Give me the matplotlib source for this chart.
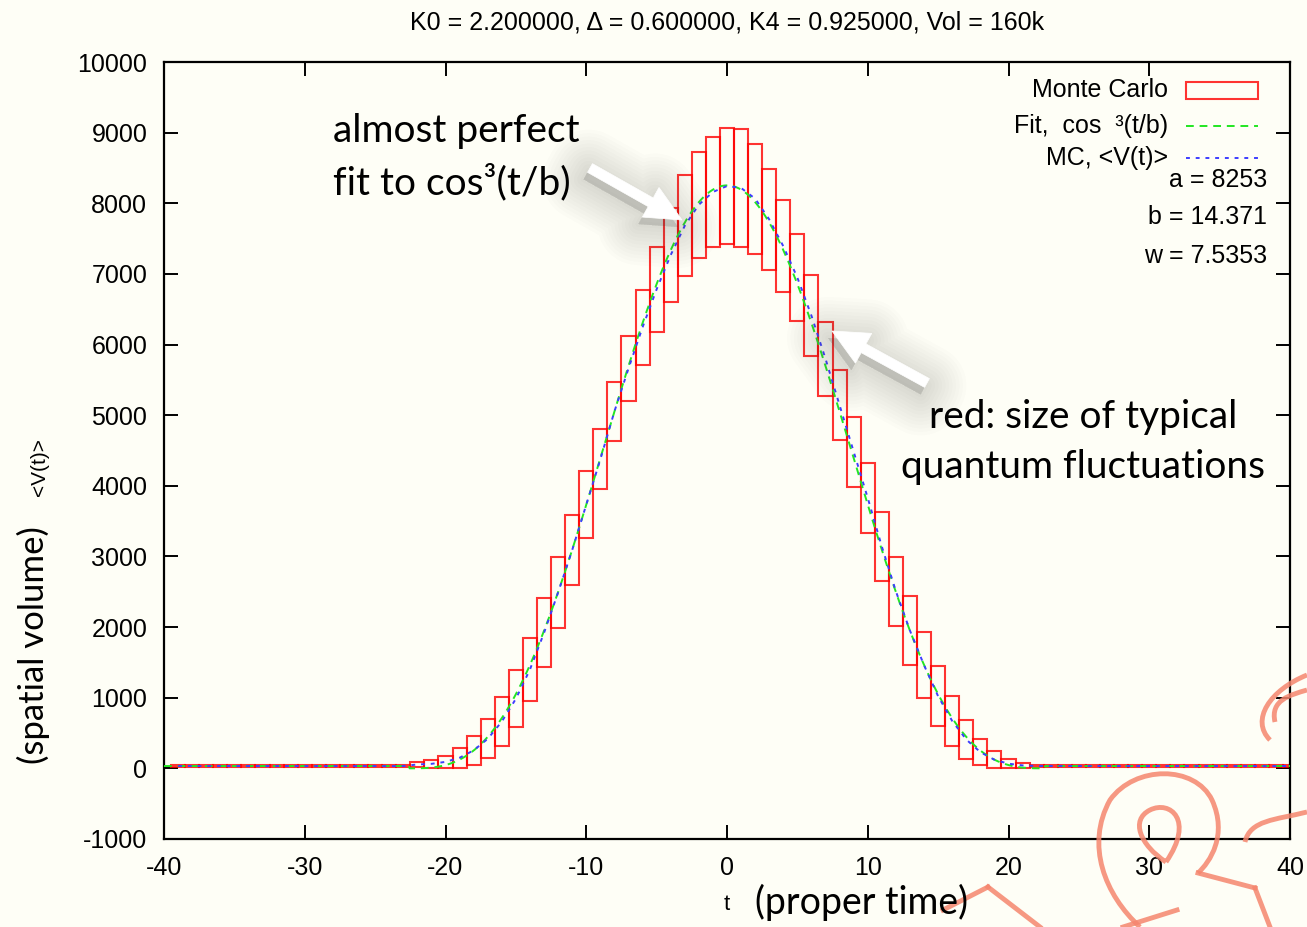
import numpy as np
import matplotlib
matplotlib.use("Agg")
import matplotlib.pyplot as plt
from matplotlib.patches import Rectangle, FancyArrow, PathPatch
from matplotlib.path import Path
from matplotlib.lines import Line2D

W, H = 1307, 927
BG = "#fefef6"

# ---------------- data ----------------
t_vals = list(range(-39, 41))
mc_mean = [33, 33, 33, 33, 33, 33, 33, 33, 33, 33, 33, 33, 33, 33, 33, 33, 33,
           55, 64, 92, 150, 255, 418, 662, 985, 1400, 1918, 2490, 3090, 3732,
           4374, 5052, 5660, 6244, 6782, 7267, 7682, 7980, 8160,
           8244,
           8217, 8065, 7772, 7392, 6947, 6408, 5798, 5140, 4483, 3828, 3140,
           2507, 1950, 1460, 1021, 671, 408, 230, 122, 66, 42, 33,
           33, 33, 33, 33, 33, 33, 33, 33, 33, 33, 33, 33, 33, 33, 33, 33, 33, 33]
mc_sd = [14, 14, 14, 14, 14, 14, 14, 14, 14, 14, 14, 14, 14, 14, 14, 14, 14,
         35, 59, 88, 145, 205, 278, 342, 405, 450, 488, 505, 500, 474,
         424, 415, 458, 527, 598, 664, 715, 750, 775,
         816,
         831, 780, 715, 652, 618, 577, 523, 493, 493, 490, 490,
         490, 490, 470, 424, 356, 275, 186, 118, 66, 32, 19,
         14, 14, 14, 14, 14, 14, 14, 14, 14, 14, 14, 14, 14, 14, 14, 14, 14, 14]
fit_a = 8253
fit_b = 14.371
fit_w = 7.5353
stalk = 33

x_ticks = [-40, -30, -20, -10, 0, 10, 20, 30, 40]
y_ticks = [-1000, 0, 1000, 2000, 3000, 4000, 5000, 6000, 7000, 8000, 9000, 10000]
title = "K0 = 2.200000, \u0394 = 0.600000, K4 = 0.925000, Vol = 160k"
legend_labels = ["Monte Carlo", "Fit,  cos  \u00b3(t/b)", "MC, <V(t)>"]
param_labels = ["a = 8253", "b = 14.371", "w = 7.5353"]

# ---------------- figure ----------------
fig = plt.figure(figsize=(W / 100, H / 100), dpi=100, facecolor=BG)
L, R, T, B = 164, 1290, 62, 839
ax = fig.add_axes([L / W, 1 - B / H, (R - L) / W, (B - T) / H], facecolor=BG)

TF = "Liberation Sans"
GF = "Lato"
FS = 18

# Monte Carlo boxes (mean +- sd)
for tv, m, s in zip(t_vals, mc_mean, mc_sd):
    ax.add_patch(Rectangle((tv - 0.5, m - s), 1.0, 2 * s, fill=False,
                           edgecolor=(1, 0, 0, 0.8), linewidth=1.5, zorder=2))

# fit curve (parameters a, b shown in the chart)
tt = np.linspace(-40, 40, 1601)
arg = tt / fit_b
fit = np.where(np.abs(arg) < np.pi / 2, fit_a * np.cos(arg) ** 3, stalk)
ax.plot(tt, fit, color="#22e622", lw=1.4, dashes=(4, 3), zorder=3)
# MC mean
ax.plot(t_vals, mc_mean, color="#3d3dff", lw=1.4, dashes=(2, 3), zorder=4)

ax.set_xlim(-40, 40)
ax.set_ylim(-1000, 10000)
ax.set_xticks(x_ticks)
ax.set_yticks(y_ticks)
ax.set_xticklabels([str(v) for v in x_ticks], fontfamily=TF, fontsize=FS)
ax.set_yticklabels([str(v) for v in y_ticks], fontfamily=TF, fontsize=FS)
ax.tick_params(direction="in", length=10, width=1.4, top=True, right=True,
               colors="black")
ax.tick_params(axis="y", pad=12)
ax.tick_params(axis="x", pad=12)
for sp in ax.spines.values():
    sp.set_linewidth(1.6)

# ---------------- overlay in pixel coordinates ----------------
ov = fig.add_axes([0, 0, 1, 1], zorder=5)
ov.set_xlim(0, W)
ov.set_ylim(H, 0)
ov.axis("off")
ov.patch.set_alpha(0)

ov.text(727, 22, title, ha="center", va="center", fontfamily=TF, fontsize=18)

# legend (gnuplot style)
ly = [90, 126, 158]
for lbl, y in zip(legend_labels, ly):
    ov.text(1168, y, lbl, ha="right", va="center", fontfamily=TF, fontsize=FS)
ov.add_patch(Rectangle((1186, 82), 72, 17, fill=False,
                       edgecolor=(1, 0, 0, 0.8), linewidth=1.5))
ov.add_line(Line2D([1186, 1258], [ly[1], ly[1]], color="#22e622", lw=1.4,
                   dashes=(4, 3)))
ov.add_line(Line2D([1186, 1258], [ly[2], ly[2]], color="#3d3dff", lw=1.4,
                   dashes=(2, 3)))
for lbl, y in zip(param_labels, [180, 217, 256]):
    ov.text(1267, y, lbl, ha="right", va="center", fontfamily=TF, fontsize=FS)

# axis labels
ov.text(33, 645, "(spatial volume)", rotation=90, ha="center", va="center",
        fontfamily=GF, fontsize=25)
ov.text(40, 467, "<V(t)>", rotation=90, ha="center", va="center",
        fontfamily=TF, fontsize=15)
ov.text(727, 905, "t", ha="center", va="center", fontfamily=TF, fontsize=16)
ov.text(755, 902, "(proper time)", ha="left", va="center", fontfamily=GF,
        fontsize=27)

# annotations
ov.text(333, 131, "almost perfect", ha="left", va="center", fontfamily=GF,
        fontsize=28)
ov.text(333, 182, "fit to cos\u00b3(t/b)", ha="left", va="center",
        fontfamily=GF, fontsize=28)
ov.text(1083, 417, "red: size of typical", ha="center", va="center",
        fontfamily=GF, fontsize=28)
ov.text(1083, 467, "quantum fluctuations", ha="center", va="center",
        fontfamily=GF, fontsize=28)


def shadow_arrow(x0, y0, x1, y1):
    dx, dy = x1 - x0, y1 - y0
    for k in range(12):
        ov.add_patch(FancyArrow(x0 - 4, y0 + 7, dx, dy, width=10,
                                head_width=34, head_length=36,
                                length_includes_head=True,
                                fc=(0.4, 0.4, 0.38, 0.018),
                                ec=(0.4, 0.4, 0.38, 0.018),
                                lw=4 + 5 * k, joinstyle="round"))
    ov.add_patch(FancyArrow(x0, y0, dx, dy, width=10, head_width=34,
                            head_length=36, length_includes_head=True,
                            fc="white", ec="white", lw=0.5))


shadow_arrow(590, 168, 682, 220)
shadow_arrow(927, 383, 832, 331)

# watermark outline (decorative)
wm = "#f5866e"


def curve(pts, lw=3.5):
    codes = [Path.MOVETO] + [Path.CURVE4] * (len(pts) - 1)
    ov.add_patch(PathPatch(Path(pts, codes), fill=False, edgecolor=wm,
                           lw=lw, alpha=0.85))


def seg(xs, ys):
    ov.add_line(Line2D(xs, ys, color=wm, lw=3.5, alpha=0.85))


curve([(1140, 927), (1105, 895), (1085, 845), (1110, 800),
       (1135, 765), (1195, 765), (1212, 800),
       (1228, 835), (1210, 862), (1198, 873)])
seg([1198, 1255], [873, 888])
curve([(1166, 862), (1140, 845), (1130, 820), (1150, 810),
       (1170, 800), (1195, 820), (1166, 862)])
curve([(1245, 842), (1250, 820), (1275, 820), (1307, 812)])
curve([(1275, 722), (1270, 700), (1290, 695), (1307, 690)])
curve([(1270, 740), (1250, 720), (1270, 690), (1307, 675)])
seg([1255, 1270], [888, 927])
seg([943, 988], [910, 887])
seg([988, 1040], [887, 927])
seg([1123, 1177], [927, 910])

fig.savefig("out.png", dpi=100, facecolor=BG)
